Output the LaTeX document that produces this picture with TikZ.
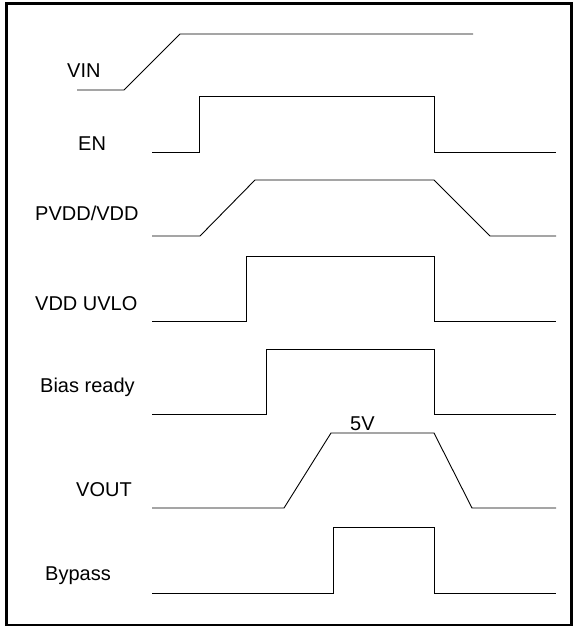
\documentclass[tikz,border=0pt]{standalone}
\usepackage{fontspec}
\setmainfont{Liberation Sans}
\begin{document}
\begin{tikzpicture}[x=1pt,y=-1pt,
  sig/.style={draw=black,line width=0.9pt,line join=miter},
  frame/.style={draw=black,line width=2.6pt},
  lbl/.style={anchor=base west,inner sep=0pt,font=\fontsize{20}{22}\selectfont}]
\useasboundingbox (0,0) rectangle (573,626);
\draw[frame] (6.5,3.3) rectangle (571.5,624.8);
% labels
\node[lbl] (lvin) at (67,77.7) {VIN};
\node[lbl] (len) at (78,150) {EN};
\node[lbl] (lpvdd) at (35,220) {PVDD/VDD};
\node[lbl] (luvlo) at (35,310) {VDD UVLO};
\node[lbl] (lbias) at (40,392.7) {Bias ready};
\node[lbl] (lvout) at (76,496.7) {VOUT};
\node[lbl] (lbyp) at (45,580) {Bypass};
\node[lbl] (l5v) at (350,430.7) {5V};
% waveforms
\draw[sig] (77,90) -- (124,90) -- (180,34) -- (473,34);
\draw[sig] (152,152) -- (199,152) -- (199,96) -- (434,96) -- (434,152) -- (556,152);
\draw[sig] (152,236) -- (200,236) -- (255,180) -- (434,180) -- (490,236) -- (556,236);
\draw[sig] (152,321) -- (246,321) -- (246,256) -- (434,256) -- (434,321) -- (556,321);
\draw[sig] (152,414) -- (266,414) -- (266,349) -- (434,349) -- (434,414) -- (556,414);
\draw[sig] (152,508) -- (284,508) -- (331,433) -- (434,433) -- (472,508) -- (556,508);
\draw[sig] (152,593) -- (333,593) -- (333,527) -- (434,527) -- (434,593) -- (556,593);
\end{tikzpicture}
\end{document}
